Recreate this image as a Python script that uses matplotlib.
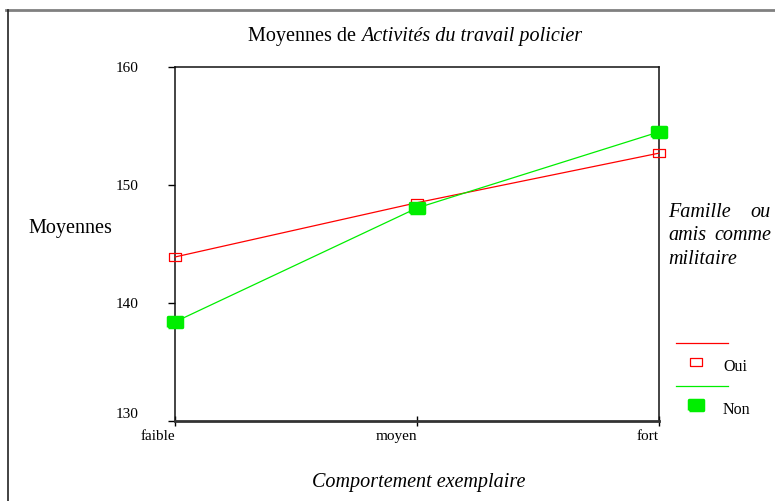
import numpy as np
import matplotlib.pyplot as plt
from matplotlib.lines import Line2D
from matplotlib.markers import MarkerStyle
import matplotlib.transforms as mtransforms

plt.rcParams['font.family'] = ['Liberation Serif', 'DejaVu Serif']

categories = ['faible', 'moyen', 'fort']
oui = [143.9, 148.5, 152.7]
non = [138.4, 148.05, 154.5]
yticks = [130, 140, 150, 160]

red = '#ff0000'
green = '#00ee00'

# wide rectangle markers
rect_red = [[-1.35, -1], [1.35, -1], [1.35, 1], [-1.35, 1], [-1.35, -1]]
rect_green = [[-1.45, -1], [1.45, -1], [1.45, 1], [-1.45, 1], [-1.45, -1]]
m_red = MarkerStyle(rect_red)
m_green = MarkerStyle(rect_green, joinstyle='round')

fig = plt.figure(figsize=(7.75, 5.01), dpi=100)
ax = fig.add_axes([175 / 775, 1 - 421 / 501, 484 / 775, 354 / 501])

x = np.arange(len(categories))
ax.plot(x, oui, color=red, lw=0.9, marker=m_red, markersize=8,
        markerfacecolor='none', markeredgecolor=red, markeredgewidth=0.9,
        clip_on=False, zorder=3)
ax.plot(x, non, color=green, lw=0.9, marker=m_green, markersize=10,
        markerfacecolor=green, markeredgecolor=green, markeredgewidth=2.5,
        clip_on=False, zorder=3)

ax.set_xlim(0, 2)
ax.set_ylim(130, 160)
ax.set_xticks(x)
ax.set_xticklabels(categories, fontsize=11, ha='right')
offset = mtransforms.ScaledTranslation(7 / 100, 0, fig.dpi_scale_trans)
for lab in ax.get_xticklabels():
    lab.set_transform(lab.get_transform() + offset)
ax.set_yticks(yticks)
ax.set_yticklabels([str(v) for v in yticks], fontsize=11)
ax.get_yticklabels()[0].set_va('bottom')
ax.tick_params(axis='y', direction='out', length=5, width=1, pad=21.5)
ax.tick_params(axis='x', direction='inout', length=7, width=1, pad=3)

for s in ['left', 'top', 'right']:
    ax.spines[s].set_linewidth(1.1)
    ax.spines[s].set_color('#111111')
ax.spines['bottom'].set_linewidth(2)
ax.spines['bottom'].set_color('#333333')

# title: regular part + italic part
t1 = fig.text(248 / 775, 1 - 36 / 501, 'Moyennes de ', fontsize=14.5, ha='left', va='center')
ax.annotate('Activités du travail policier', xy=(1, 0.5), xycoords=t1,
            fontsize=14.5, style='italic', ha='left', va='center',
            annotation_clip=False)

fig.text(70 / 775, 1 - 229 / 501, 'Moyennes', fontsize=14.5, ha='center', va='center')
fig.text(419 / 775, 1 - 483 / 501, 'Comportement exemplaire', fontsize=14.5,
         style='italic', ha='center', va='center')

# legend title (justified)
fig.text(668 / 775, 1 - 212 / 501, 'Famille', fontsize=14.5, style='italic', va='center')
fig.text(771 / 775, 1 - 212 / 501, 'ou', fontsize=14.5, style='italic', va='center', ha='right')
fig.text(668 / 775, 1 - 236 / 501, 'amis', fontsize=14.5, style='italic', va='center')
fig.text(771 / 775, 1 - 236 / 501, 'comme', fontsize=14.5, style='italic', va='center', ha='right')
fig.text(668 / 775, 1 - 259 / 501, 'militaire', fontsize=14.5, style='italic', va='center')

# legend entries
legend_items = [('Oui', red, m_red, 8, 'none', 0.9, 343),
                ('Non', green, m_green, 10, green, 2.5, 386)]
for label, col, mk, ms, fc, mew, ly in legend_items:
    fig.add_artist(Line2D([676 / 775, 728 / 775], [1 - ly / 501, 1 - ly / 501],
                          transform=fig.transFigure, color=col, lw=0.9))
    fig.add_artist(Line2D([696 / 775], [1 - (ly + 19) / 501], transform=fig.transFigure,
                          marker=mk, markersize=ms, markerfacecolor=fc,
                          markeredgecolor=col, markeredgewidth=mew, linestyle='none'))
    fig.text(723 / 775, 1 - (ly + 24) / 501, label, fontsize=11.5, va='center')

# outer frame (top and left edges)
fig.add_artist(Line2D([6 / 775, 1], [1 - 10 / 501, 1 - 10 / 501],
                      transform=fig.transFigure, color='#808080', lw=2))
fig.add_artist(Line2D([8 / 775, 8 / 775], [0, 1 - 10 / 501],
                      transform=fig.transFigure, color='#222222', lw=1.2))

fig.savefig('out.png', dpi=100)
